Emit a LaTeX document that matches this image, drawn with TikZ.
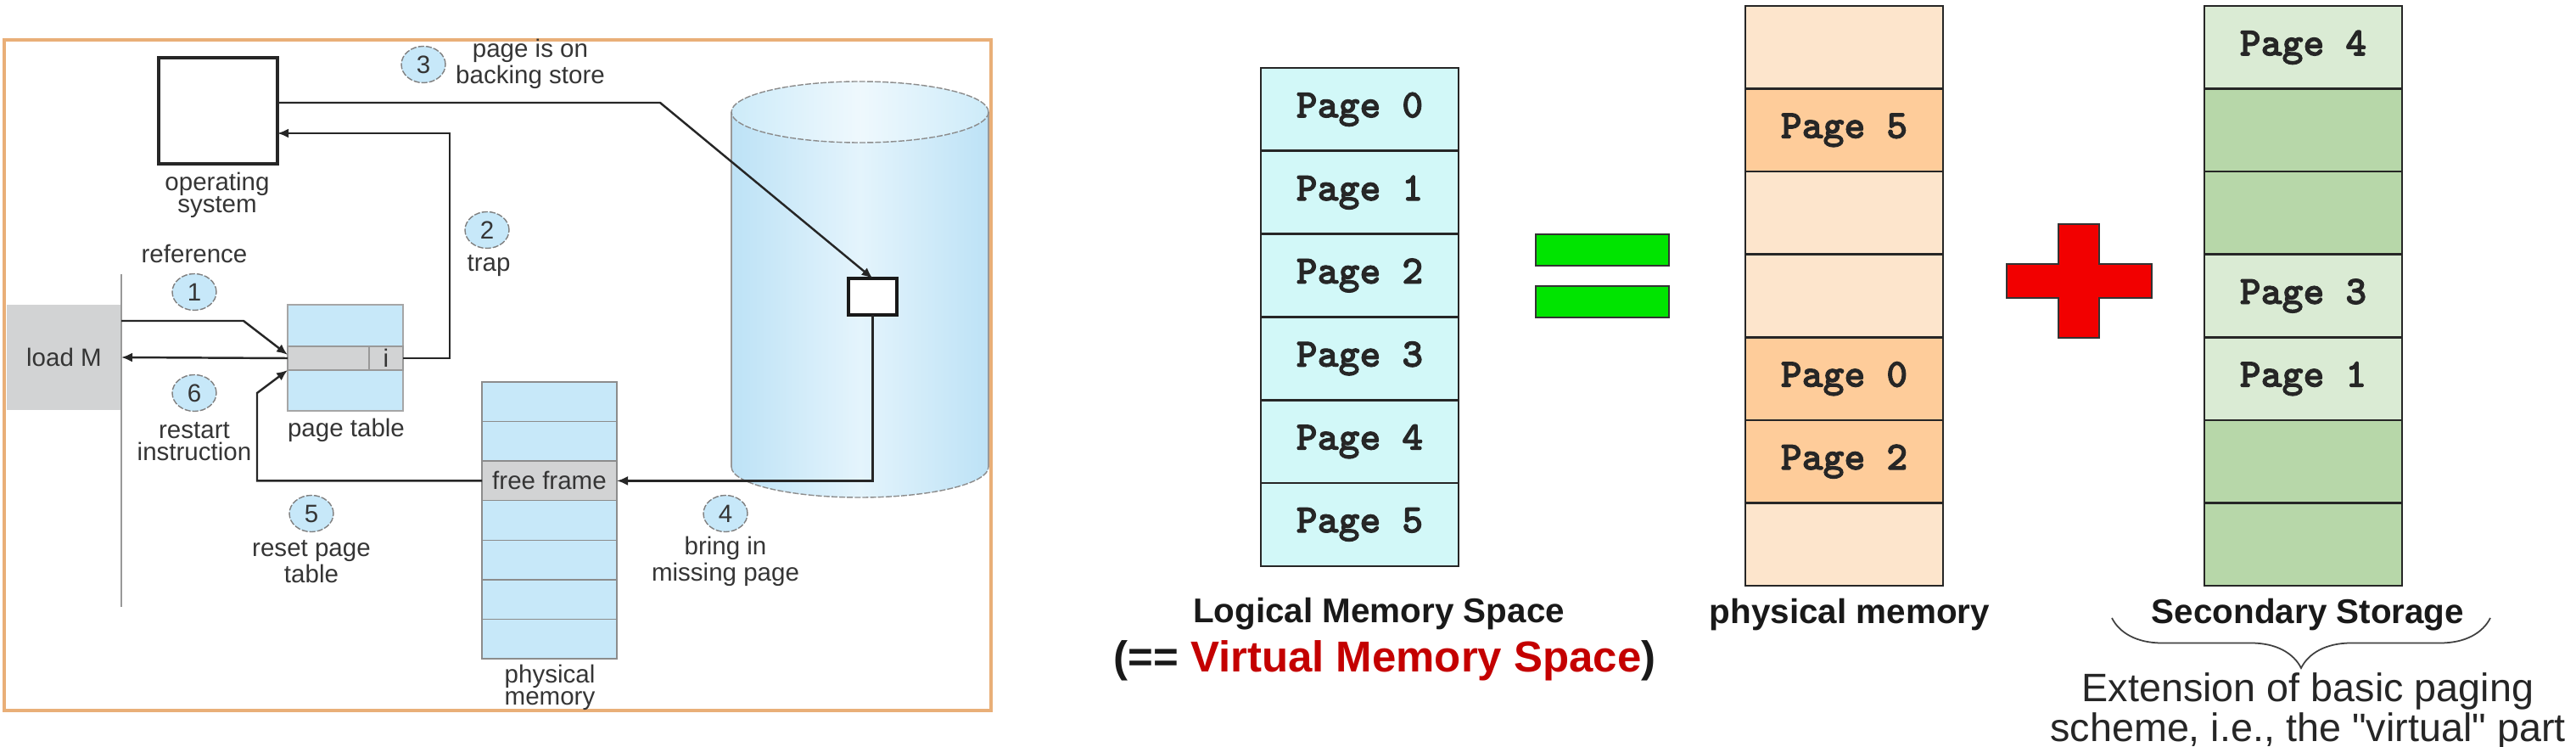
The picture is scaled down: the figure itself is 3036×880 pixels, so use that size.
\documentclass[tikz,border=0pt]{standalone}
\usepackage{fontspec, xcolor}
\setmainfont{Liberation Sans}
\newfontfamily\pagefont{lmmonolt10-bold.otf}[FakeBold=2]
\newfontfamily\plainsans{Liberation Sans}[Ligatures=TeXOff]
\usetikzlibrary{arrows.meta, calc, shapes.geometric, decorations.pathreplacing}

\definecolor{frameorange}{HTML}{E9AF78}
\definecolor{paleblue}{HTML}{C7E8F9}
\definecolor{cellgray}{HTML}{D2D3D4}
\definecolor{labelgray}{HTML}{353535}
\definecolor{diskside}{HTML}{BDE2F6}
\definecolor{diskmid}{HTML}{E4F4FC}
\definecolor{disktop}{HTML}{CDEBF9}
\definecolor{logcyan}{HTML}{D2F8F8}
\definecolor{peachlight}{HTML}{FDE5CC}
\definecolor{peachdark}{HTML}{FECC9A}
\definecolor{greenlight}{HTML}{DAEBD4}
\definecolor{greendark}{HTML}{B7D7A9}
\definecolor{eqgreen}{HTML}{00E400}
\definecolor{plusred}{HTML}{F20000}
\definecolor{virtred}{HTML}{C40000}

\begin{document}
\begin{tikzpicture}[x=0.1mm, y=-0.1mm,
    every node/.style={inner sep=0pt, outer sep=0pt},
    lbl/.style={font=\fontsize{8.4}{7.6}\selectfont, text=labelgray, align=center},
    stepnum/.style={ellipse, draw=black!50, fill=paleblue, dash pattern=on 2pt off 0.6pt,
        minimum width=5.2mm, minimum height=4.3mm, font=\fontsize{8.4}{8.4}\selectfont, text=labelgray},
    flow/.style={draw=black!85, line width=0.7pt, -{Latex[length=1.3mm, width=1.1mm]}},
    cell/.style={draw=black!85, line width=0.7pt, minimum width=23.3mm, minimum height=9.77mm,
        anchor=north west, font=\fontsize{13.5}{13.5}\selectfont\pagefont, text=black!85},
    headlbl/.style={font=\fontsize{11.5}{11.5}\selectfont\bfseries, text=black!90}]
    \useasboundingbox (0,0) rectangle (3036,880);

    % Frame round the page fault figure
    \draw[frameorange, line width=1.2pt] (5,47) rectangle (1168,837);

    % Instruction stream
    \node[fill=cellgray, minimum width=13.5mm, minimum height=12.4mm, lbl] (loadm) at (75.5,421) {load M};
    \draw[black!40, line width=0.6pt] (143,323) -- (143,715);

    % Operating system
    \node[draw=black!85, line width=0.9pt, fill=white, minimum width=14mm, minimum height=12.5mm] (os) at (257,130.5) {};
    \node[lbl] (oslbl) at (256,230) {operating\\system};

    % Page table
    \node[draw=black!35, fill=paleblue, minimum width=13.6mm, minimum height=12.5mm] (pt) at (407,421.5) {};
    \node[draw=black!40, fill=cellgray, minimum width=9.6mm, minimum height=2.8mm, anchor=north west] (ptrow) at (339,408) {};
    \node[draw=black!40, fill=cellgray, minimum width=4mm, minimum height=2.8mm, anchor=north west, lbl] (icell) at (435,408) {i};
    \node[lbl] (ptlbl) at (408,507) {page table};

    % Physical memory
    \foreach \k/\c in {0/paleblue,1/paleblue,2/cellgray,3/paleblue,4/paleblue,5/paleblue,6/paleblue}
    {
        \node[draw=black!45, fill=\c, minimum width=15.9mm, minimum height=4.657mm, anchor=north west] (pm\k) at (568,450+46.57*\k) {};
    }
    \node[lbl] (fflbl) at (pm2) {free frame};
    \node[lbl] (pmlblleft) at (648,810) {physical\\memory};

    % Backing store
    \shade[left color=diskside, right color=diskside, middle color=diskmid]
        (862,132) -- (862,550) arc[start angle=180, end angle=360, x radius=15.15mm, y radius=3.6mm]
        -- (1165,132) -- cycle;
    \draw[black!40, line width=0.4pt] (862,132) -- (862,550) (1165,132) -- (1165,550);
    \draw[black!45, line width=0.4pt, dash pattern=on 2pt off 0.6pt]
        (862,550) arc[start angle=180, end angle=360, x radius=15.15mm, y radius=3.6mm];
    \shade[left color=disktop, right color=disktop, middle color=diskmid!60!white]
        (1013.5,132) ellipse[x radius=15.15mm, y radius=3.6mm];
    \draw[black!45, line width=0.4pt, dash pattern=on 2pt off 0.6pt]
        (1013.5,132) ellipse[x radius=15.15mm, y radius=3.6mm];
    \node[draw=black!90, line width=0.9pt, fill=white, minimum width=5.7mm, minimum height=4.3mm] (blk) at (1028.5,349.5) {};

    % Steps
    \foreach \n/\x/\y in {1/229/344, 2/574/271, 3/499/76, 4/855/605, 5/367/605, 6/229/463}
    {
        \node[stepnum] (s\n) at (\x,\y) {\n};
    }
    \node[lbl] (reflbl) at (229,299) {reference};
    \node[lbl] (traplbl) at (576,313) {trap};
    \node[lbl] (storelbl) at (625,75) {page is on\\backing store};
    \node[lbl] (bringlbl) at (855,661) {bring in\\missing page};
    \node[lbl] (resetlbl) at (367,662) {reset page\\table};
    \node[lbl] (restartlbl) at (229,520) {restart\\instruction};

    % Arrows
    \coordinate (bend1) at (287,378);
    \coordinate (bend2) at (530,157);
    \coordinate (bend3) at (778,121);
    \coordinate (bend5) at (303,463);
    \draw[flow] ([yshift=-1.9mm]loadm.north east) -- (bend1) -- ([yshift=0.4mm]ptrow.west);
    \draw[flow] (icell.east) -| (bend2) -- (os.east |- bend2);
    \draw[flow] (os.east |- bend3) -- (bend3) -- (blk.north);
    \draw[flow] (blk.south) |- (pm2.east);
    \draw[flow] (pm2.west) -| (bend5) -- (ptrow.south west);
    \draw[flow] (ptrow.west) -- (loadm.east);

    % Logical memory space
    \foreach \k in {0,...,5}
    {
        \node[cell, fill=logcyan] (lm\k) at (1486,80+97.83*\k) {Page \k};
    }
    \node[headlbl] (lmlbl) at (1625,723) {Logical Memory Space};
    \node[font=\fontsize{14.5}{14.5}\selectfont\bfseries, text=black!90] (vmlbl) at (1632,778)
        {(== \textcolor{virtred}{Virtual Memory Space})};

    % Equals
    \node[draw=black!80, fill=eqgreen, minimum width=15.7mm, minimum height=3.7mm, anchor=north west] (eqtop) at (1810,276) {};
    \node[draw=black!80, fill=eqgreen, minimum width=15.7mm, minimum height=3.7mm, anchor=north west] (eqbot) at (1810,337) {};

    % Physical memory frames
    \foreach \k/\c/\t in {0/peachlight/, 1/peachdark/Page 5, 2/peachlight/, 3/peachlight/,
                          4/peachdark/Page 0, 5/peachdark/Page 2, 6/peachlight/}
    {
        \node[cell, fill=\c] (fr\k) at (2057,7+97.57*\k) {\t};
    }
    \node[headlbl] (pmlbl) at (2180,724) {physical memory};

    % Plus
    \draw[black!80, fill=plusred, line width=0.6pt] (2365,311) -- (2426,311) -- (2426,264) -- (2474,264)
        -- (2474,311) -- (2536,311) -- (2536,351) -- (2474,351) -- (2474,398) -- (2426,398)
        -- (2426,351) -- (2365,351) -- cycle;

    % Secondary storage
    \foreach \k/\c/\t in {0/greenlight/Page 4, 1/greendark/, 2/greendark/, 3/greenlight/Page 3,
                          4/greenlight/Page 1, 5/greendark/, 6/greendark/}
    {
        \node[cell, fill=\c] (ss\k) at (2598,7+97.57*\k) {\t};
    }
    \node[headlbl] (sslbl) at (2720,724) {Secondary Storage};
    \draw[decorate, decoration={brace, mirror, amplitude=5.9mm}, black!75, line width=0.5pt] (2489,728) -- (2935,728);
    \node[font=\fontsize{13.3}{11.4}\selectfont\plainsans, align=center, text=black!85] (extlbl) at (2720,838)
        {Extension of basic paging\\scheme, i.e., the "virtual" part};
\end{tikzpicture}
\end{document}
